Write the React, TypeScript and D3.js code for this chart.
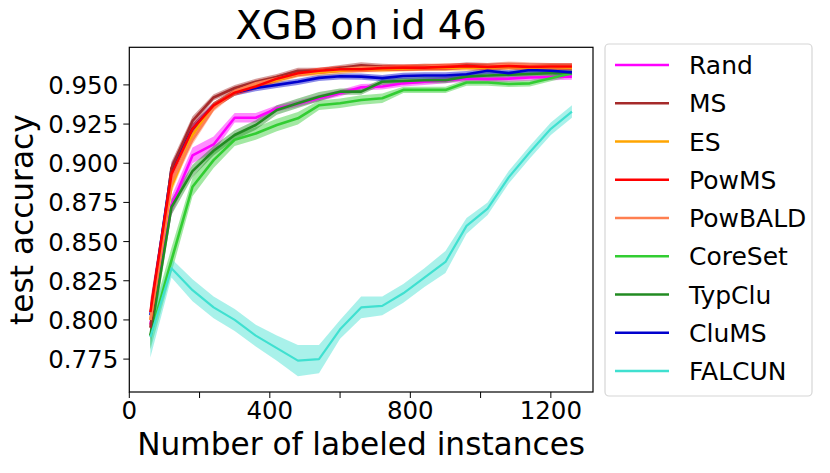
import * as d3 from "d3";

const FONT = "'DejaVu Sans', sans-serif";

const budgets = [60, 120, 180, 240, 300, 360, 420, 480, 540, 600, 660, 720, 780, 840, 900, 960, 1020, 1080, 1140, 1200, 1260];

const randMean = [0.797, 0.873, 0.905, 0.912, 0.929, 0.929, 0.935, 0.938, 0.9415, 0.9447, 0.9485, 0.949, 0.951, 0.952, 0.953, 0.954, 0.9537, 0.954, 0.9547, 0.955, 0.9553];
const msMean = [0.795, 0.897, 0.927, 0.942, 0.948, 0.952, 0.955, 0.959, 0.959, 0.9607, 0.9625, 0.9615, 0.961, 0.9615, 0.961, 0.9625, 0.962, 0.9625, 0.962, 0.962, 0.962];
const esMean = [0.8, 0.885, 0.918, 0.937, 0.945, 0.95, 0.953, 0.957, 0.958, 0.959, 0.96, 0.96, 0.9605, 0.961, 0.961, 0.961, 0.961, 0.9615, 0.961, 0.9615, 0.961];
const powMsMean = [0.805, 0.893, 0.922, 0.937, 0.945, 0.949, 0.954, 0.9575, 0.959, 0.96, 0.96, 0.9607, 0.961, 0.961, 0.9615, 0.962, 0.9615, 0.962, 0.9615, 0.9617, 0.9617];
const powBaldMean = [0.8, 0.888, 0.915, 0.935, 0.946, 0.951, 0.954, 0.957, 0.959, 0.96, 0.961, 0.961, 0.961, 0.9615, 0.962, 0.962, 0.962, 0.963, 0.9625, 0.962, 0.962];
const coreSetMean = [0.79, 0.838, 0.885, 0.902, 0.915, 0.919, 0.9244, 0.9287, 0.937, 0.9383, 0.9404, 0.9415, 0.9468, 0.9468, 0.9468, 0.9515, 0.9515, 0.9506, 0.951, 0.9543, 0.9575];
const typCluMean = [0.79, 0.872, 0.895, 0.908, 0.918, 0.9244, 0.934, 0.9383, 0.9425, 0.9457, 0.9457, 0.952, 0.9526, 0.953, 0.953, 0.9553, 0.956, 0.9565, 0.957, 0.9575, 0.958];
const cluMsMean = [0.803, 0.896, 0.922, 0.937, 0.945, 0.948, 0.95, 0.952, 0.9545, 0.9555, 0.9553, 0.9543, 0.9557, 0.956, 0.956, 0.9568, 0.959, 0.9575, 0.9595, 0.959, 0.958];
const falcunMean = [0.789, 0.833, 0.819, 0.808, 0.8, 0.79, 0.782, 0.774, 0.775, 0.794, 0.808, 0.809, 0.817, 0.827, 0.837, 0.86, 0.871, 0.891, 0.907, 0.922, 0.933];

const randStd = [0.008, 0.006, 0.005, 0.005, 0.003, 0.003, 0.002, 0.002, 0.002, 0.002, 0.002, 0.002, 0.002, 0.002, 0.002, 0.002, 0.002, 0.002, 0.002, 0.002, 0.002];
const smallStd = [0.008, 0.004, 0.003, 0.002, 0.002, 0.002, 0.002, 0.002, 0.002, 0.002, 0.002, 0.002, 0.002, 0.002, 0.002, 0.002, 0.002, 0.002, 0.002, 0.002, 0.002];
const coreSetStd = [0.009, 0.008, 0.006, 0.005, 0.004, 0.004, 0.004, 0.004, 0.003, 0.003, 0.003, 0.003, 0.002, 0.002, 0.002, 0.002, 0.002, 0.002, 0.002, 0.002, 0.002];
const typCluStd = [0.008, 0.005, 0.004, 0.003, 0.003, 0.003, 0.003, 0.003, 0.003, 0.002, 0.002, 0.002, 0.002, 0.002, 0.002, 0.002, 0.002, 0.002, 0.002, 0.002, 0.002];
const falcunStd = [0.013, 0.006, 0.007, 0.007, 0.007, 0.007, 0.008, 0.01, 0.009, 0.006, 0.007, 0.006, 0.006, 0.006, 0.007, 0.005, 0.004, 0.004, 0.004, 0.004, 0.004];

const methodNames = ["Rand", "MS", "ES", "PowMS", "PowBALD", "CoreSet", "TypClu", "CluMS", "FALCUN"];
const methodColors = ["#ff00ff", "#a52a2a", "#ffa500", "#ff0000", "#ff7f50", "#32cd32", "#228b22", "#0000cd", "#40e0d0"];
const methodMeans = [randMean, msMean, esMean, powMsMean, powBaldMean, coreSetMean, typCluMean, cluMsMean, falcunMean];
const methodStds = [randStd, smallStd, smallStd, smallStd, smallStd, coreSetStd, typCluStd, smallStd, falcunStd];
// draw order (index into the arrays above)
const drawOrder = [0, 5, 6, 7, 1, 2, 4, 3, 8];

const xTicks = [0, 200, 400, 600, 800, 1000, 1200];
const xTickLabels = ["0", "", "400", "", "800", "", "1200"];
const yTicks = [0.775, 0.8, 0.825, 0.85, 0.875, 0.9, 0.925, 0.95];

const W = 830;
const H = 473;
const M = { left: 129.3, right: 593, top: 47.3, bottom: 392 };

export default function App() {
  const x = d3.scaleLinear().domain([0, 1320]).range([M.left, M.right]);
  const y = d3.scaleLinear().domain([0.754, 0.974]).range([M.bottom, M.top]);

  const line = d3
    .line<number>()
    .x((_, i) => x(budgets[i]))
    .y((d) => y(d));

  const band = (mean: number[], std: number[]) =>
    d3
      .area<number>()
      .x((_, i) => x(budgets[i]))
      .y0((d, i) => y(d - std[i]))
      .y1((d, i) => y(d + std[i]))(mean) as string;

  const legendX = 605;
  const legendY = 44;
  const rowH = 38.25;

  return (
    <svg
      width={W}
      height={H}
      style={{ position: "fixed", left: 0, top: 0, background: "#fff" }}
      fontFamily={FONT}
    >
      <defs>
        <clipPath id="plotClip">
          <rect x={M.left} y={M.top} width={M.right - M.left} height={M.bottom - M.top} />
        </clipPath>
      </defs>

      <g clipPath="url(#plotClip)">
        {drawOrder.map((k) => (
          <path key={"b" + k} d={band(methodMeans[k], methodStds[k])} fill={methodColors[k]} fillOpacity={0.45} stroke="none" />
        ))}
        {drawOrder.map((k) => (
          <path
            key={"l" + k}
            d={line(methodMeans[k]) as string}
            fill="none"
            stroke={methodColors[k]}
            strokeWidth={k === 8 ? 2.2 : 2.6}
            strokeLinejoin="round"
          />
        ))}
      </g>

      <rect x={M.left} y={M.top} width={M.right - M.left} height={M.bottom - M.top} fill="none" stroke="#000" strokeWidth={1.2} />

      {xTicks.map((t, i) => (
        <g key={"xt" + t}>
          <line x1={x(t)} x2={x(t)} y1={M.bottom} y2={M.bottom + 6} stroke="#000" strokeWidth={1} />
          {xTickLabels[i] && (
            <text x={x(t)} y={M.bottom + 27} fontSize={24.5} textAnchor="middle" fill="#000">
              {xTickLabels[i]}
            </text>
          )}
        </g>
      ))}

      {yTicks.map((t) => (
        <g key={"yt" + t}>
          <line x1={M.left - 6} x2={M.left} y1={y(t)} y2={y(t)} stroke="#000" strokeWidth={1} />
          <text x={M.left - 11} y={y(t) + 9} fontSize={24.5} textAnchor="end" fill="#000">
            {d3.format(".3f")(t)}
          </text>
        </g>
      ))}

      <text x={(M.left + M.right) / 2} y={39} fontSize={38.5} textAnchor="middle" fill="#000">
        XGB on id 46
      </text>
      <text x={(M.left + M.right) / 2} y={455} fontSize={31.2} textAnchor="middle" fill="#000">
        Number of labeled instances
      </text>
      <text
        transform={`translate(33, ${(M.top + M.bottom) / 2}) rotate(-90)`}
        fontSize={31.2}
        textAnchor="middle"
        fill="#000"
      >
        test accuracy
      </text>

      <rect x={legendX} y={legendY} width={207} height={352} rx={4} fill="#fff" stroke="#d6d6d6" strokeWidth={1.2} />
      {methodNames.map((name, i) => {
        const cy = 65 + i * rowH;
        return (
          <g key={name}>
            <line x1={615} x2={669} y1={cy} y2={cy} stroke={methodColors[i]} strokeWidth={2.4} />
            <text x={689} y={cy + 9} fontSize={25} fill="#000">
              {name}
            </text>
          </g>
        );
      })}
    </svg>
  );
}
